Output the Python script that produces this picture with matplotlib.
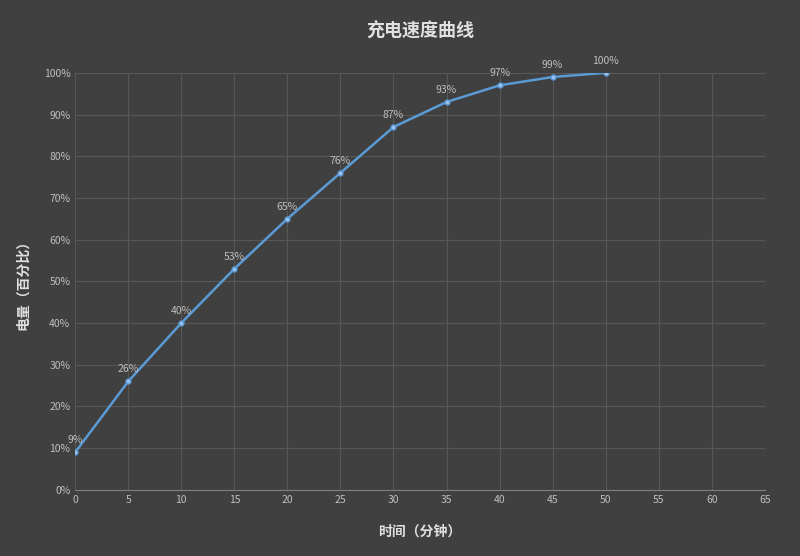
import matplotlib.pyplot as plt

plt.rcParams['font.family'] = ['Noto Sans CJK SC', 'DejaVu Sans']

minutes = [0, 5, 10, 15, 20, 25, 30, 35, 40, 45, 50]
charge = [9, 26, 40, 53, 65, 76, 87, 93, 97, 99, 100]

bg = '#404040'
fig = plt.figure(figsize=(8, 5.56), dpi=100, facecolor=bg)
ax = fig.add_axes([0.094, 0.119, 0.862, 0.75], facecolor=bg)

ax.plot(minutes, charge, color='#5b9bd5', linewidth=1.8, marker='o', markersize=3.5,
        markerfacecolor='#9dc3ef', markeredgecolor='#5b9bd5', zorder=3)
for x, y in zip(minutes, charge):
    ax.annotate(f'{y}%', (x, y), xytext=(0, 5), textcoords='offset points',
                ha='center', va='bottom', color='#bfbfbf', fontsize=7.5)

ax.set_xlim(0, 65)
ax.set_ylim(0, 100)
ax.set_xticks(range(0, 66, 5))
ax.set_yticks(range(0, 101, 10))
ax.set_yticklabels([f'{v}%' for v in range(0, 101, 10)])
ax.grid(True, color='#575757', linewidth=0.8)
ax.set_axisbelow(True)
for s in ax.spines.values():
    s.set_visible(False)
ax.spines['bottom'].set_visible(True)
ax.spines['bottom'].set_color('#808080')
ax.tick_params(colors='#bfbfbf', labelsize=7.5, length=0)

ax.set_title('充电速度曲线', color='#e0e0e0', fontsize=13, fontweight='bold', pad=26)
ax.set_xlabel('时间（分钟）', color='#e0e0e0', fontsize=10, fontweight='bold', labelpad=14)
ax.set_ylabel('电量（百分比）', color='#e0e0e0', fontsize=10, fontweight='bold', labelpad=10)

fig.savefig('out.png', dpi=100, facecolor=bg)
